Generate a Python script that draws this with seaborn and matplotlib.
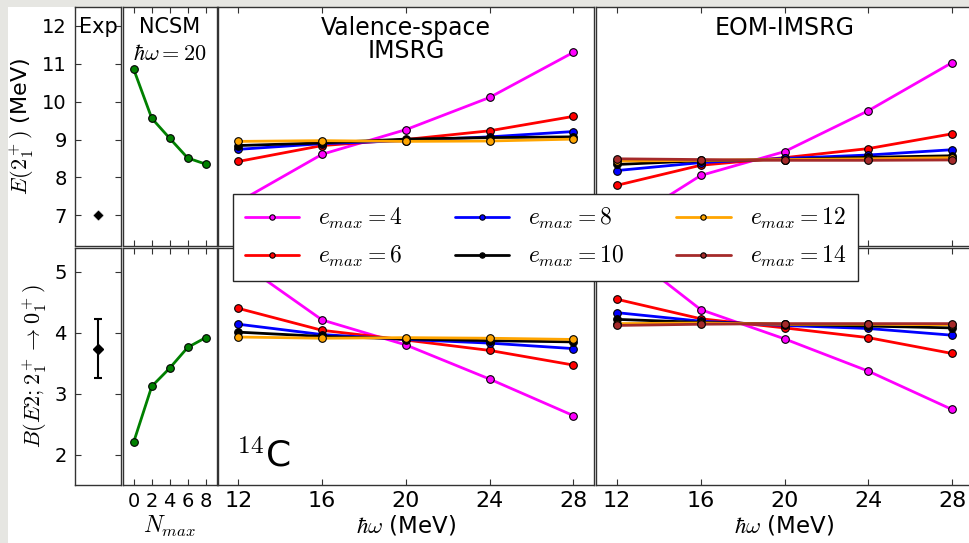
import numpy as np
import pandas as pd
import matplotlib
matplotlib.use("Agg")
import matplotlib.pyplot as plt
import seaborn as sns
from matplotlib.lines import Line2D
from matplotlib.patches import Rectangle

sns.set_style("white")
plt.rcParams['font.family'] = ['DejaVu Sans']
plt.rcParams['mathtext.fontset'] = 'cm'
plt.rcParams['text.color'] = 'black'
plt.rcParams['axes.labelcolor'] = 'black'
plt.rcParams['xtick.color'] = 'black'
plt.rcParams['ytick.color'] = 'black'

# ---------------- data ----------------
hw = [12, 16, 20, 24, 28]
nmax = [0, 2, 4, 6, 8]
emax_labels = [4, 6, 8, 10, 12, 14]
colors = ['#ff00ff', '#ff0000', '#0000ff', '#000000', '#ffa500', '#a52a2a']

exp_E = 7.01
exp_B = 3.74
exp_B_err = 0.49

ncsm_E = [10.85, 9.56, 9.03, 8.51, 8.35]
ncsm_B = [2.21, 3.12, 3.42, 3.76, 3.92]

vs_E_4 = [7.35, 8.61, 9.26, 10.11, 11.30]
vs_E_6 = [8.42, 8.84, 9.00, 9.23, 9.61]
vs_E_8 = [8.74, 8.89, 8.97, 9.07, 9.21]
vs_E_10 = [8.84, 8.91, 9.01, 9.05, 9.07]
vs_E_12 = [8.95, 8.97, 8.95, 8.96, 9.01]

vs_B_4 = [5.18, 4.21, 3.80, 3.24, 2.64]
vs_B_6 = [4.40, 4.04, 3.88, 3.71, 3.47]
vs_B_8 = [4.14, 3.97, 3.89, 3.83, 3.74]
vs_B_10 = [4.01, 3.94, 3.90, 3.87, 3.85]
vs_B_12 = [3.93, 3.91, 3.92, 3.91, 3.89]

eom_E_4 = [6.65, 8.05, 8.68, 9.76, 11.03]
eom_E_6 = [7.79, 8.32, 8.52, 8.76, 9.15]
eom_E_8 = [8.18, 8.39, 8.50, 8.59, 8.73]
eom_E_10 = [8.34, 8.44, 8.47, 8.53, 8.57]
eom_E_12 = [8.43, 8.45, 8.47, 8.49, 8.52]
eom_E_14 = [8.49, 8.47, 8.45, 8.45, 8.46]

eom_B_4 = [5.45, 4.38, 3.90, 3.37, 2.74]
eom_B_6 = [4.55, 4.23, 4.08, 3.92, 3.66]
eom_B_8 = [4.33, 4.19, 4.12, 4.07, 3.96]
eom_B_10 = [4.22, 4.17, 4.14, 4.11, 4.08]
eom_B_12 = [4.15, 4.16, 4.14, 4.14, 4.13]
eom_B_14 = [4.12, 4.14, 4.15, 4.15, 4.15]

vs_E = [vs_E_4, vs_E_6, vs_E_8, vs_E_10, vs_E_12]
vs_B = [vs_B_4, vs_B_6, vs_B_8, vs_B_10, vs_B_12]
eom_E = [eom_E_4, eom_E_6, eom_E_8, eom_E_10, eom_E_12, eom_E_14]
eom_B = [eom_B_4, eom_B_6, eom_B_8, eom_B_10, eom_B_12, eom_B_14]

# ---------------- figure ----------------
W, H = 969, 543
fig = plt.figure(figsize=(W / 100, H / 100), dpi=100)
fig.patch.set_facecolor('white')
gray = '#e6e6e2'
fig.patches.append(Rectangle((0, 0), 8 / W, 1, transform=fig.transFigure,
                             facecolor=gray, edgecolor='none', zorder=-10))
fig.patches.append(Rectangle((0, 1 - 7 / H), 1, 7 / H, transform=fig.transFigure,
                             facecolor=gray, edgecolor='none', zorder=-10))

top_b, top_h = 1 - 245.5 / H, 238.5 / H
bot_b, bot_h = 1 - 485 / H, 237.5 / H
cols = {
    'exp': (75 / W, 46 / W),
    'ncsm': (123 / W, 93.5 / W),
    'vs': (217.5 / W, 376.7 / W),
    'eom': (596 / W, 377 / W),
}
axes = {}
for k, (l, w) in cols.items():
    axes[(k, 'top')] = fig.add_axes([l, top_b, w, top_h])
    axes[(k, 'bot')] = fig.add_axes([l, bot_b, w, bot_h])

spine_col = '0.2'
for ax in axes.values():
    ax.set_facecolor('white')
    for s in ax.spines.values():
        s.set_color(spine_col)
        s.set_linewidth(1.0)
        s.set_visible(True)

lw = 2.0
ms = 5.5

def line(ax, x, y, c):
    sns.lineplot(x=x, y=y, ax=ax, color=c, marker='o', markersize=ms,
                 markeredgecolor='k', markeredgewidth=0.8, linewidth=lw,
                 legend=False, sort=False, estimator=None)

# Exp
ax = axes[('exp', 'top')]
sns.scatterplot(x=[1], y=[exp_E], ax=ax, marker='D', color='k', s=32, legend=False)
ax = axes[('exp', 'bot')]
ax.errorbar([1], [exp_B], yerr=[exp_B_err], fmt='D', color='k', ms=5,
            capsize=3, elinewidth=1.5, capthick=1.5)

# NCSM
line(axes[('ncsm', 'top')], nmax, ncsm_E, '#008000')
line(axes[('ncsm', 'bot')], nmax, ncsm_B, '#008000')

# VS
for ys, c in zip(vs_E, colors):
    line(axes[('vs', 'top')], hw, ys, c)
for ys, c in zip(vs_B, colors):
    line(axes[('vs', 'bot')], hw, ys, c)

# EOM
for ys, c in zip(eom_E, colors):
    line(axes[('eom', 'top')], hw, ys, c)
for ys, c in zip(eom_B, colors):
    line(axes[('eom', 'bot')], hw, ys, c)

# limits / ticks
for k in cols:
    axes[(k, 'top')].set_ylim(6.2, 12.5)
    axes[(k, 'bot')].set_ylim(1.5, 5.4)
    for r in ('top', 'bot'):
        a = axes[(k, r)]
        a.set_xlabel('')
        a.set_ylabel('')

for r in ('top', 'bot'):
    a = axes[('exp', r)]
    a.set_xlim(0, 2)
    a.set_xticks([])
    a.tick_params(axis='y', which='both', direction='in', left=True, right=True,
                  labelleft=True, labelright=False, length=4, width=0.8,
                  labelsize=14, pad=6, color='0.2')
axes[('exp', 'top')].set_yticks([7, 8, 9, 10, 11, 12])
axes[('exp', 'bot')].set_yticks([2, 3, 4, 5])

for r in ('top', 'bot'):
    a = axes[('ncsm', r)]
    a.set_xlim(-1.2, 9.2)
    a.set_xticks(nmax)
    a.set_yticks([])
    a.tick_params(axis='x', direction='in', top=True, bottom=True,
                  labelbottom=(r == 'bot'), length=4, width=0.8,
                  labelsize=14, pad=5, color='0.2')
    for k in ('vs', 'eom'):
        a = axes[(k, r)]
        a.set_xlim(11, 29)
        a.set_xticks(hw)
        a.set_yticks([])
        a.tick_params(axis='x', direction='in', top=True, bottom=True,
                      labelbottom=(r == 'bot'), length=4, width=0.8,
                      labelsize=16, pad=4, color='0.2')

axes[('exp', 'top')].set_ylabel(r'$E(2_1^+)$ (MeV)', fontsize=16)
axes[('exp', 'bot')].set_ylabel(r'$B(E2;2_1^+\rightarrow 0_1^+)$', fontsize=16)
axes[('ncsm', 'bot')].set_xlabel(r'$N_{max}$', fontsize=17, labelpad=2)
axes[('vs', 'bot')].set_xlabel(r'$\hbar\omega$ (MeV)', fontsize=16.5, labelpad=2)
axes[('eom', 'bot')].set_xlabel(r'$\hbar\omega$ (MeV)', fontsize=16.5, labelpad=2)

# titles inside panels
axes[('exp', 'top')].text(0.5, 0.96, 'Exp', transform=axes[('exp', 'top')].transAxes,
                          ha='center', va='top', fontsize=15)
axes[('ncsm', 'top')].text(0.5, 0.96, 'NCSM', transform=axes[('ncsm', 'top')].transAxes,
                           ha='center', va='top', fontsize=15)
axes[('ncsm', 'top')].text(0.5, 0.845, r'$\hbar\omega=20$', transform=axes[('ncsm', 'top')].transAxes,
                           ha='center', va='top', fontsize=16)
axes[('vs', 'top')].text(0.5, 0.962, 'Valence-space\nIMSRG', transform=axes[('vs', 'top')].transAxes,
                         ha='center', va='top', fontsize=17, linespacing=0.93)
axes[('eom', 'top')].text(0.5, 0.962, 'EOM-IMSRG', transform=axes[('eom', 'top')].transAxes,
                          ha='center', va='top', fontsize=17)
axes[('vs', 'bot')].text(0.05, 0.076, r'$^{14}$C', transform=axes[('vs', 'bot')].transAxes,
                         ha='left', va='baseline', fontsize=26)

# legend
handles = [Line2D([], [], color=c, lw=lw, marker='o', markersize=ms,
                  markeredgecolor='k', markeredgewidth=0.8) for c in colors]
labels = [r'$e_{max}=%d$' % e for e in emax_labels]
leg = fig.legend(handles, labels, ncol=3, loc='upper left',
                 bbox_to_anchor=(233 / W, 1 - 194 / H), bbox_transform=fig.transFigure,
                 borderaxespad=0, fontsize=17, fancybox=False, framealpha=1,
                 edgecolor='0.15', markerscale=0.7, handlelength=2.3,
                 handletextpad=0.8, columnspacing=2.2, labelspacing=0.55,
                 borderpad=0.5)
leg.get_frame().set_linewidth(1.0)

fig.savefig('out.png', dpi=100, facecolor=fig.get_facecolor())
